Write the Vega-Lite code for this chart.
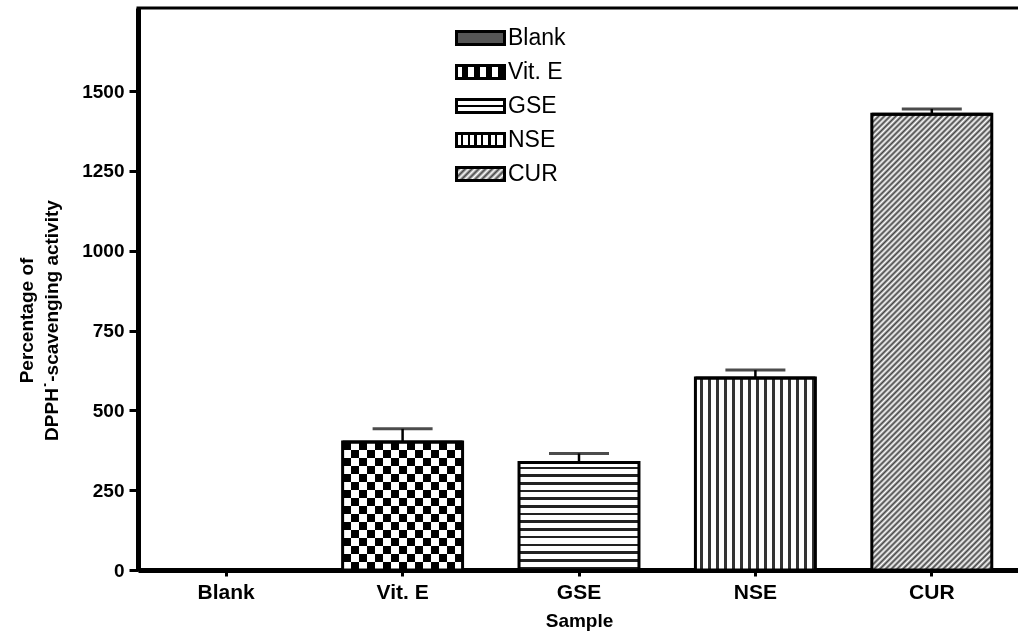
{
  "$schema": "https://vega.github.io/schema/vega-lite/v6.json",
  "autosize": {"type": "none"},
  "padding": {"left": 138, "top": 8, "right": 0, "bottom": 69},
  "width": 882,
  "height": 562,
  "config": {
    "font": "Liberation Sans",
    "view": {"stroke": "black", "strokeWidth": 3},
    "axis": {"grid": false, "domainColor": "black", "tickColor": "black", "labelColor": "black", "titleColor": "black", "labelFontWeight": "bold", "titleFontWeight": "bold"}
  },
  "data": {
    "values": [
      {"s": "Blank", "v": 1, "hi": 1},
      {"s": "Vit. E", "v": 401, "hi": 442},
      {"s": "GSE", "v": 337, "hi": 365},
      {"s": "NSE", "v": 601, "hi": 626},
      {"s": "CUR", "v": 1427, "hi": 1444}
    ]
  },
  "encoding": {
    "x": {
      "field": "s", "type": "nominal",
      "scale": {"domain": ["Blank", "Vit. E", "GSE", "NSE", "CUR"], "paddingInner": 0.32, "paddingOuter": 0.16},
      "axis": {"title": "Sample", "labelAngle": 0, "labelFontSize": 21, "titleFontSize": 19, "tickSize": 6, "tickWidth": 3, "domainWidth": 5, "labelPadding": 5, "titlePadding": 9}
    },
    "y": {
      "field": "v", "type": "quantitative",
      "scale": {"domain": [0, 1760], "nice": false},
      "axis": {"title": ["Percentage of", "DPPH\u02d9-scavenging activity"], "values": [0, 250, 500, 750, 1000, 1250, 1500], "format": "d", "labelFontSize": 19, "titleFontSize": 19, "tickSize": 9, "tickWidth": 3, "domainWidth": 5, "labelPadding": 5, "titlePadding": 20, "titleLineHeight": 25, "titleY": 312}
    }
  },
  "layer": [
    {
      "transform": [{"filter": "datum.s === 'Blank'"}],
      "mark": {"type": "bar", "strokeWidth": 0, "fill": "#666"}
    },
    {
      "transform": [{"filter": "datum.s === 'Vit. E'"}],
      "mark": {"type": "bar", "strokeWidth": 0, "fill": {"gradient": "linear", "x1": 0, "y1": 0, "x2": 0, "y2": 1, "stops": [
        {"offset": 0, "color": "#000"}, {"offset": 0.0625, "color": "#000"}, {"offset": 0.0625, "color": "#fff"}, {"offset": 0.125, "color": "#fff"},
        {"offset": 0.125, "color": "#000"}, {"offset": 0.1875, "color": "#000"}, {"offset": 0.1875, "color": "#fff"}, {"offset": 0.25, "color": "#fff"},
        {"offset": 0.25, "color": "#000"}, {"offset": 0.3125, "color": "#000"}, {"offset": 0.3125, "color": "#fff"}, {"offset": 0.375, "color": "#fff"},
        {"offset": 0.375, "color": "#000"}, {"offset": 0.4375, "color": "#000"}, {"offset": 0.4375, "color": "#fff"}, {"offset": 0.5, "color": "#fff"},
        {"offset": 0.5, "color": "#000"}, {"offset": 0.5625, "color": "#000"}, {"offset": 0.5625, "color": "#fff"}, {"offset": 0.625, "color": "#fff"},
        {"offset": 0.625, "color": "#000"}, {"offset": 0.6875, "color": "#000"}, {"offset": 0.6875, "color": "#fff"}, {"offset": 0.75, "color": "#fff"},
        {"offset": 0.75, "color": "#000"}, {"offset": 0.8125, "color": "#000"}, {"offset": 0.8125, "color": "#fff"}, {"offset": 0.875, "color": "#fff"},
        {"offset": 0.875, "color": "#000"}, {"offset": 0.9375, "color": "#000"}, {"offset": 0.9375, "color": "#fff"}, {"offset": 1, "color": "#fff"}
      ]}}
    },
    {
      "transform": [{"filter": "datum.s === 'GSE'"}],
      "mark": {"type": "bar", "strokeWidth": 0, "fill": {"gradient": "linear", "x1": 0, "y1": 0, "x2": 0, "y2": 1, "stops": [
        {"offset": 0, "color": "#fff"},
        {"offset": 0.04, "color": "#fff"}, {"offset": 0.04, "color": "#222"}, {"offset": 0.064, "color": "#222"}, {"offset": 0.064, "color": "#fff"},
        {"offset": 0.1114, "color": "#fff"}, {"offset": 0.1114, "color": "#222"}, {"offset": 0.1354, "color": "#222"}, {"offset": 0.1354, "color": "#fff"},
        {"offset": 0.1829, "color": "#fff"}, {"offset": 0.1829, "color": "#222"}, {"offset": 0.2069, "color": "#222"}, {"offset": 0.2069, "color": "#fff"},
        {"offset": 0.2543, "color": "#fff"}, {"offset": 0.2543, "color": "#222"}, {"offset": 0.2783, "color": "#222"}, {"offset": 0.2783, "color": "#fff"},
        {"offset": 0.3257, "color": "#fff"}, {"offset": 0.3257, "color": "#222"}, {"offset": 0.3497, "color": "#222"}, {"offset": 0.3497, "color": "#fff"},
        {"offset": 0.3971, "color": "#fff"}, {"offset": 0.3971, "color": "#222"}, {"offset": 0.4211, "color": "#222"}, {"offset": 0.4211, "color": "#fff"},
        {"offset": 0.4686, "color": "#fff"}, {"offset": 0.4686, "color": "#222"}, {"offset": 0.4926, "color": "#222"}, {"offset": 0.4926, "color": "#fff"},
        {"offset": 0.54, "color": "#fff"}, {"offset": 0.54, "color": "#222"}, {"offset": 0.564, "color": "#222"}, {"offset": 0.564, "color": "#fff"},
        {"offset": 0.6114, "color": "#fff"}, {"offset": 0.6114, "color": "#222"}, {"offset": 0.6354, "color": "#222"}, {"offset": 0.6354, "color": "#fff"},
        {"offset": 0.6829, "color": "#fff"}, {"offset": 0.6829, "color": "#222"}, {"offset": 0.7069, "color": "#222"}, {"offset": 0.7069, "color": "#fff"},
        {"offset": 0.7543, "color": "#fff"}, {"offset": 0.7543, "color": "#222"}, {"offset": 0.7783, "color": "#222"}, {"offset": 0.7783, "color": "#fff"},
        {"offset": 0.8257, "color": "#fff"}, {"offset": 0.8257, "color": "#222"}, {"offset": 0.8497, "color": "#222"}, {"offset": 0.8497, "color": "#fff"},
        {"offset": 0.8971, "color": "#fff"}, {"offset": 0.8971, "color": "#222"}, {"offset": 0.9211, "color": "#222"}, {"offset": 0.9211, "color": "#fff"},
        {"offset": 0.9686, "color": "#fff"}, {"offset": 0.9686, "color": "#222"}, {"offset": 0.9926, "color": "#222"}, {"offset": 0.9926, "color": "#fff"},
        {"offset": 1, "color": "#fff"}
      ]}}
    },
    {
      "transform": [{"filter": "datum.s === 'NSE'"}],
      "mark": {"type": "bar", "strokeWidth": 0, "fill": {"gradient": "linear", "x1": 0, "y1": 0, "x2": 1, "y2": 0, "stops": [
        {"offset": 0, "color": "#fff"},
        {"offset": 0.035, "color": "#fff"}, {"offset": 0.035, "color": "#333"}, {"offset": 0.06, "color": "#333"}, {"offset": 0.06, "color": "#fff"},
        {"offset": 0.1017, "color": "#fff"}, {"offset": 0.1017, "color": "#333"}, {"offset": 0.1267, "color": "#333"}, {"offset": 0.1267, "color": "#fff"},
        {"offset": 0.1683, "color": "#fff"}, {"offset": 0.1683, "color": "#333"}, {"offset": 0.1933, "color": "#333"}, {"offset": 0.1933, "color": "#fff"},
        {"offset": 0.235, "color": "#fff"}, {"offset": 0.235, "color": "#333"}, {"offset": 0.26, "color": "#333"}, {"offset": 0.26, "color": "#fff"},
        {"offset": 0.3017, "color": "#fff"}, {"offset": 0.3017, "color": "#333"}, {"offset": 0.3267, "color": "#333"}, {"offset": 0.3267, "color": "#fff"},
        {"offset": 0.3683, "color": "#fff"}, {"offset": 0.3683, "color": "#333"}, {"offset": 0.3933, "color": "#333"}, {"offset": 0.3933, "color": "#fff"},
        {"offset": 0.435, "color": "#fff"}, {"offset": 0.435, "color": "#333"}, {"offset": 0.46, "color": "#333"}, {"offset": 0.46, "color": "#fff"},
        {"offset": 0.5017, "color": "#fff"}, {"offset": 0.5017, "color": "#333"}, {"offset": 0.5267, "color": "#333"}, {"offset": 0.5267, "color": "#fff"},
        {"offset": 0.5683, "color": "#fff"}, {"offset": 0.5683, "color": "#333"}, {"offset": 0.5933, "color": "#333"}, {"offset": 0.5933, "color": "#fff"},
        {"offset": 0.635, "color": "#fff"}, {"offset": 0.635, "color": "#333"}, {"offset": 0.66, "color": "#333"}, {"offset": 0.66, "color": "#fff"},
        {"offset": 0.7017, "color": "#fff"}, {"offset": 0.7017, "color": "#333"}, {"offset": 0.7267, "color": "#333"}, {"offset": 0.7267, "color": "#fff"},
        {"offset": 0.7683, "color": "#fff"}, {"offset": 0.7683, "color": "#333"}, {"offset": 0.7933, "color": "#333"}, {"offset": 0.7933, "color": "#fff"},
        {"offset": 0.835, "color": "#fff"}, {"offset": 0.835, "color": "#333"}, {"offset": 0.86, "color": "#333"}, {"offset": 0.86, "color": "#fff"},
        {"offset": 0.9017, "color": "#fff"}, {"offset": 0.9017, "color": "#333"}, {"offset": 0.9267, "color": "#333"}, {"offset": 0.9267, "color": "#fff"},
        {"offset": 0.9683, "color": "#fff"}, {"offset": 0.9683, "color": "#333"}, {"offset": 0.9933, "color": "#333"}, {"offset": 0.9933, "color": "#fff"},
        {"offset": 1, "color": "#fff"}
      ]}}
    },
    {
      "transform": [{"filter": "datum.s === 'CUR'"}],
      "mark": {"type": "bar", "strokeWidth": 0, "fill": {"gradient": "linear", "x1": 0, "y1": 0, "x2": 0.31, "y2": 1.18, "stops": [
        {"offset": 0, "color": "#fff"}, {"offset": 0.005, "color": "#444"}, {"offset": 0.01, "color": "#fff"}, {"offset": 0.015, "color": "#444"},
        {"offset": 0.02, "color": "#fff"}, {"offset": 0.025, "color": "#444"}, {"offset": 0.03, "color": "#fff"}, {"offset": 0.035, "color": "#444"},
        {"offset": 0.04, "color": "#fff"}, {"offset": 0.045, "color": "#444"}, {"offset": 0.05, "color": "#fff"}, {"offset": 0.055, "color": "#444"},
        {"offset": 0.06, "color": "#fff"}, {"offset": 0.065, "color": "#444"}, {"offset": 0.07, "color": "#fff"}, {"offset": 0.075, "color": "#444"},
        {"offset": 0.08, "color": "#fff"}, {"offset": 0.085, "color": "#444"}, {"offset": 0.09, "color": "#fff"}, {"offset": 0.095, "color": "#444"},
        {"offset": 0.1, "color": "#fff"}, {"offset": 0.105, "color": "#444"}, {"offset": 0.11, "color": "#fff"}, {"offset": 0.115, "color": "#444"},
        {"offset": 0.12, "color": "#fff"}, {"offset": 0.125, "color": "#444"}, {"offset": 0.13, "color": "#fff"}, {"offset": 0.135, "color": "#444"},
        {"offset": 0.14, "color": "#fff"}, {"offset": 0.145, "color": "#444"}, {"offset": 0.15, "color": "#fff"}, {"offset": 0.155, "color": "#444"},
        {"offset": 0.16, "color": "#fff"}, {"offset": 0.165, "color": "#444"}, {"offset": 0.17, "color": "#fff"}, {"offset": 0.175, "color": "#444"},
        {"offset": 0.18, "color": "#fff"}, {"offset": 0.185, "color": "#444"}, {"offset": 0.19, "color": "#fff"}, {"offset": 0.195, "color": "#444"},
        {"offset": 0.2, "color": "#fff"}, {"offset": 0.205, "color": "#444"}, {"offset": 0.21, "color": "#fff"}, {"offset": 0.215, "color": "#444"},
        {"offset": 0.22, "color": "#fff"}, {"offset": 0.225, "color": "#444"}, {"offset": 0.23, "color": "#fff"}, {"offset": 0.235, "color": "#444"},
        {"offset": 0.24, "color": "#fff"}, {"offset": 0.245, "color": "#444"}, {"offset": 0.25, "color": "#fff"}, {"offset": 0.255, "color": "#444"},
        {"offset": 0.26, "color": "#fff"}, {"offset": 0.265, "color": "#444"}, {"offset": 0.27, "color": "#fff"}, {"offset": 0.275, "color": "#444"},
        {"offset": 0.28, "color": "#fff"}, {"offset": 0.285, "color": "#444"}, {"offset": 0.29, "color": "#fff"}, {"offset": 0.295, "color": "#444"},
        {"offset": 0.3, "color": "#fff"}, {"offset": 0.305, "color": "#444"}, {"offset": 0.31, "color": "#fff"}, {"offset": 0.315, "color": "#444"},
        {"offset": 0.32, "color": "#fff"}, {"offset": 0.325, "color": "#444"}, {"offset": 0.33, "color": "#fff"}, {"offset": 0.335, "color": "#444"},
        {"offset": 0.34, "color": "#fff"}, {"offset": 0.345, "color": "#444"}, {"offset": 0.35, "color": "#fff"}, {"offset": 0.355, "color": "#444"},
        {"offset": 0.36, "color": "#fff"}, {"offset": 0.365, "color": "#444"}, {"offset": 0.37, "color": "#fff"}, {"offset": 0.375, "color": "#444"},
        {"offset": 0.38, "color": "#fff"}, {"offset": 0.385, "color": "#444"}, {"offset": 0.39, "color": "#fff"}, {"offset": 0.395, "color": "#444"},
        {"offset": 0.4, "color": "#fff"}, {"offset": 0.405, "color": "#444"}, {"offset": 0.41, "color": "#fff"}, {"offset": 0.415, "color": "#444"},
        {"offset": 0.42, "color": "#fff"}, {"offset": 0.425, "color": "#444"}, {"offset": 0.43, "color": "#fff"}, {"offset": 0.435, "color": "#444"},
        {"offset": 0.44, "color": "#fff"}, {"offset": 0.445, "color": "#444"}, {"offset": 0.45, "color": "#fff"}, {"offset": 0.455, "color": "#444"},
        {"offset": 0.46, "color": "#fff"}, {"offset": 0.465, "color": "#444"}, {"offset": 0.47, "color": "#fff"}, {"offset": 0.475, "color": "#444"},
        {"offset": 0.48, "color": "#fff"}, {"offset": 0.485, "color": "#444"}, {"offset": 0.49, "color": "#fff"}, {"offset": 0.495, "color": "#444"},
        {"offset": 0.5, "color": "#fff"}, {"offset": 0.505, "color": "#444"}, {"offset": 0.51, "color": "#fff"}, {"offset": 0.515, "color": "#444"},
        {"offset": 0.52, "color": "#fff"}, {"offset": 0.525, "color": "#444"}, {"offset": 0.53, "color": "#fff"}, {"offset": 0.535, "color": "#444"},
        {"offset": 0.54, "color": "#fff"}, {"offset": 0.545, "color": "#444"}, {"offset": 0.55, "color": "#fff"}, {"offset": 0.555, "color": "#444"},
        {"offset": 0.56, "color": "#fff"}, {"offset": 0.565, "color": "#444"}, {"offset": 0.57, "color": "#fff"}, {"offset": 0.575, "color": "#444"},
        {"offset": 0.58, "color": "#fff"}, {"offset": 0.585, "color": "#444"}, {"offset": 0.59, "color": "#fff"}, {"offset": 0.595, "color": "#444"},
        {"offset": 0.6, "color": "#fff"}, {"offset": 0.605, "color": "#444"}, {"offset": 0.61, "color": "#fff"}, {"offset": 0.615, "color": "#444"},
        {"offset": 0.62, "color": "#fff"}, {"offset": 0.625, "color": "#444"}, {"offset": 0.63, "color": "#fff"}, {"offset": 0.635, "color": "#444"},
        {"offset": 0.64, "color": "#fff"}, {"offset": 0.645, "color": "#444"}, {"offset": 0.65, "color": "#fff"}, {"offset": 0.655, "color": "#444"},
        {"offset": 0.66, "color": "#fff"}, {"offset": 0.665, "color": "#444"}, {"offset": 0.67, "color": "#fff"}, {"offset": 0.675, "color": "#444"},
        {"offset": 0.68, "color": "#fff"}, {"offset": 0.685, "color": "#444"}, {"offset": 0.69, "color": "#fff"}, {"offset": 0.695, "color": "#444"},
        {"offset": 0.7, "color": "#fff"}, {"offset": 0.705, "color": "#444"}, {"offset": 0.71, "color": "#fff"}, {"offset": 0.715, "color": "#444"},
        {"offset": 0.72, "color": "#fff"}, {"offset": 0.725, "color": "#444"}, {"offset": 0.73, "color": "#fff"}, {"offset": 0.735, "color": "#444"},
        {"offset": 0.74, "color": "#fff"}, {"offset": 0.745, "color": "#444"}, {"offset": 0.75, "color": "#fff"}, {"offset": 0.755, "color": "#444"},
        {"offset": 0.76, "color": "#fff"}, {"offset": 0.765, "color": "#444"}, {"offset": 0.77, "color": "#fff"}, {"offset": 0.775, "color": "#444"},
        {"offset": 0.78, "color": "#fff"}, {"offset": 0.785, "color": "#444"}, {"offset": 0.79, "color": "#fff"}, {"offset": 0.795, "color": "#444"},
        {"offset": 0.8, "color": "#fff"}, {"offset": 0.805, "color": "#444"}, {"offset": 0.81, "color": "#fff"}, {"offset": 0.815, "color": "#444"},
        {"offset": 0.82, "color": "#fff"}, {"offset": 0.825, "color": "#444"}, {"offset": 0.83, "color": "#fff"}, {"offset": 0.835, "color": "#444"},
        {"offset": 0.84, "color": "#fff"}, {"offset": 0.845, "color": "#444"}, {"offset": 0.85, "color": "#fff"}, {"offset": 0.855, "color": "#444"},
        {"offset": 0.86, "color": "#fff"}, {"offset": 0.865, "color": "#444"}, {"offset": 0.87, "color": "#fff"}, {"offset": 0.875, "color": "#444"},
        {"offset": 0.88, "color": "#fff"}, {"offset": 0.885, "color": "#444"}, {"offset": 0.89, "color": "#fff"}, {"offset": 0.895, "color": "#444"},
        {"offset": 0.9, "color": "#fff"}, {"offset": 0.905, "color": "#444"}, {"offset": 0.91, "color": "#fff"}, {"offset": 0.915, "color": "#444"},
        {"offset": 0.92, "color": "#fff"}, {"offset": 0.925, "color": "#444"}, {"offset": 0.93, "color": "#fff"}, {"offset": 0.935, "color": "#444"},
        {"offset": 0.94, "color": "#fff"}, {"offset": 0.945, "color": "#444"}, {"offset": 0.95, "color": "#fff"}, {"offset": 0.955, "color": "#444"},
        {"offset": 0.96, "color": "#fff"}, {"offset": 0.965, "color": "#444"}, {"offset": 0.97, "color": "#fff"}, {"offset": 0.975, "color": "#444"},
        {"offset": 0.98, "color": "#fff"}, {"offset": 0.985, "color": "#444"}, {"offset": 0.99, "color": "#fff"}, {"offset": 0.995, "color": "#444"},
        {"offset": 1, "color": "#fff"}
      ]}}
    },
    {
      "transform": [{"filter": "datum.s === 'Vit. E'"}],
      "mark": {"type": "bar", "strokeWidth": 0, "blend": "difference", "fill": {"gradient": "linear", "x1": 0, "y1": 0, "x2": 1, "y2": 0, "stops": [
        {"offset": 0, "color": "#000"}, {"offset": 0.0667, "color": "#000"}, {"offset": 0.0667, "color": "#fff"}, {"offset": 0.1333, "color": "#fff"},
        {"offset": 0.1333, "color": "#000"}, {"offset": 0.2, "color": "#000"}, {"offset": 0.2, "color": "#fff"}, {"offset": 0.2667, "color": "#fff"},
        {"offset": 0.2667, "color": "#000"}, {"offset": 0.3333, "color": "#000"}, {"offset": 0.3333, "color": "#fff"}, {"offset": 0.4, "color": "#fff"},
        {"offset": 0.4, "color": "#000"}, {"offset": 0.4667, "color": "#000"}, {"offset": 0.4667, "color": "#fff"}, {"offset": 0.5333, "color": "#fff"},
        {"offset": 0.5333, "color": "#000"}, {"offset": 0.6, "color": "#000"}, {"offset": 0.6, "color": "#fff"}, {"offset": 0.6667, "color": "#fff"},
        {"offset": 0.6667, "color": "#000"}, {"offset": 0.7333, "color": "#000"}, {"offset": 0.7333, "color": "#fff"}, {"offset": 0.8, "color": "#fff"},
        {"offset": 0.8, "color": "#000"}, {"offset": 0.8667, "color": "#000"}, {"offset": 0.8667, "color": "#fff"}, {"offset": 0.9333, "color": "#fff"},
        {"offset": 0.9333, "color": "#000"}, {"offset": 1, "color": "#000"}
      ]}}
    },
    {
      "mark": {"type": "bar", "filled": false, "stroke": "black", "strokeWidth": 3}
    },
    {
      "mark": {"type": "bar", "stroke": "black", "strokeWidth": 3},
      "encoding": {
        "y2": {"field": "v"},
        "fill": {
          "field": "s", "type": "nominal",
          "scale": {
            "domain": ["Blank", "Vit. E", "GSE", "NSE", "CUR"],
            "range": [
              "#555",
              {"expr": "{gradient: 'linear', x1: 0, y1: 0, x2: 1, y2: 0, stops: [{offset: 0, color: '#fff'}, {offset: 0.125, color: '#fff'}, {offset: 0.125, color: '#000'}, {offset: 0.25, color: '#000'}, {offset: 0.25, color: '#fff'}, {offset: 0.375, color: '#fff'}, {offset: 0.375, color: '#000'}, {offset: 0.5, color: '#000'}, {offset: 0.5, color: '#fff'}, {offset: 0.625, color: '#fff'}, {offset: 0.625, color: '#000'}, {offset: 0.75, color: '#000'}, {offset: 0.75, color: '#fff'}, {offset: 0.875, color: '#fff'}, {offset: 0.875, color: '#000'}, {offset: 1, color: '#000'}]}"},
              {"expr": "{gradient: 'linear', x1: 0, y1: 0, x2: 0, y2: 1, stops: [{offset: 0, color: '#fff'}, {offset: 0.4, color: '#fff'}, {offset: 0.4, color: '#000'}, {offset: 0.6, color: '#000'}, {offset: 0.6, color: '#fff'}, {offset: 1, color: '#fff'}]}"},
              {"expr": "{gradient: 'linear', x1: 0, y1: 0, x2: 1, y2: 0, stops: [{offset: 0, color: '#fff'}, {offset: 0.09, color: '#fff'}, {offset: 0.09, color: '#000'}, {offset: 0.14, color: '#000'}, {offset: 0.14, color: '#fff'}, {offset: 0.23, color: '#fff'}, {offset: 0.23, color: '#000'}, {offset: 0.28, color: '#000'}, {offset: 0.28, color: '#fff'}, {offset: 0.37, color: '#fff'}, {offset: 0.37, color: '#000'}, {offset: 0.42, color: '#000'}, {offset: 0.42, color: '#fff'}, {offset: 0.51, color: '#fff'}, {offset: 0.51, color: '#000'}, {offset: 0.56, color: '#000'}, {offset: 0.56, color: '#fff'}, {offset: 0.66, color: '#fff'}, {offset: 0.66, color: '#000'}, {offset: 0.71, color: '#000'}, {offset: 0.71, color: '#fff'}, {offset: 0.8, color: '#fff'}, {offset: 0.8, color: '#000'}, {offset: 0.85, color: '#000'}, {offset: 0.85, color: '#fff'}, {offset: 1, color: '#fff'}]}"},
              {"expr": "{gradient: 'linear', x1: 0, y1: 0, x2: 1.18, y2: 0.32, stops: [{offset: 0, color: '#fff'}, {offset: 0.0556, color: '#444'}, {offset: 0.1111, color: '#fff'}, {offset: 0.1667, color: '#444'}, {offset: 0.2222, color: '#fff'}, {offset: 0.2778, color: '#444'}, {offset: 0.3333, color: '#fff'}, {offset: 0.3889, color: '#444'}, {offset: 0.4444, color: '#fff'}, {offset: 0.5, color: '#444'}, {offset: 0.5556, color: '#fff'}, {offset: 0.6111, color: '#444'}, {offset: 0.6667, color: '#fff'}, {offset: 0.7222, color: '#444'}, {offset: 0.7778, color: '#fff'}, {offset: 0.8333, color: '#444'}, {offset: 0.8889, color: '#fff'}, {offset: 0.9444, color: '#444'}, {offset: 1, color: '#fff'}]}"}
            ]
          },
          "legend": {
            "title": null, "orient": "none", "legendX": 317, "legendY": 13, "padding": 0,
            "symbolType": "M-1,-0.27H1V0.27H-1Z", "symbolSize": 2304, "symbolStrokeColor": "black", "symbolStrokeWidth": 3, "symbolOpacity": 1,
            "labelFontSize": 23, "labelFontWeight": "normal", "labelColor": "black", "labelOffset": 2, "rowPadding": 0, "clipHeight": 34
          }
        }
      }
    },
    {
      "mark": {"type": "rule", "strokeWidth": 2.5, "color": "black"},
      "encoding": {"y2": {"field": "hi"}}
    },
    {
      "mark": {"type": "tick", "thickness": 3, "size": 60, "color": "black"},
      "encoding": {
        "y": {
          "field": "hi", "type": "quantitative",
          "axis": {"title": ["Percentage of", "DPPH\u02d9-scavenging activity"], "values": [0, 250, 500, 750, 1000, 1250, 1500], "format": "d", "labelFontSize": 19, "titleFontSize": 19, "tickSize": 9, "tickWidth": 3, "domainWidth": 5, "labelPadding": 5, "titlePadding": 20, "titleLineHeight": 25, "titleY": 312}
        }
      }
    }
  ]
}
